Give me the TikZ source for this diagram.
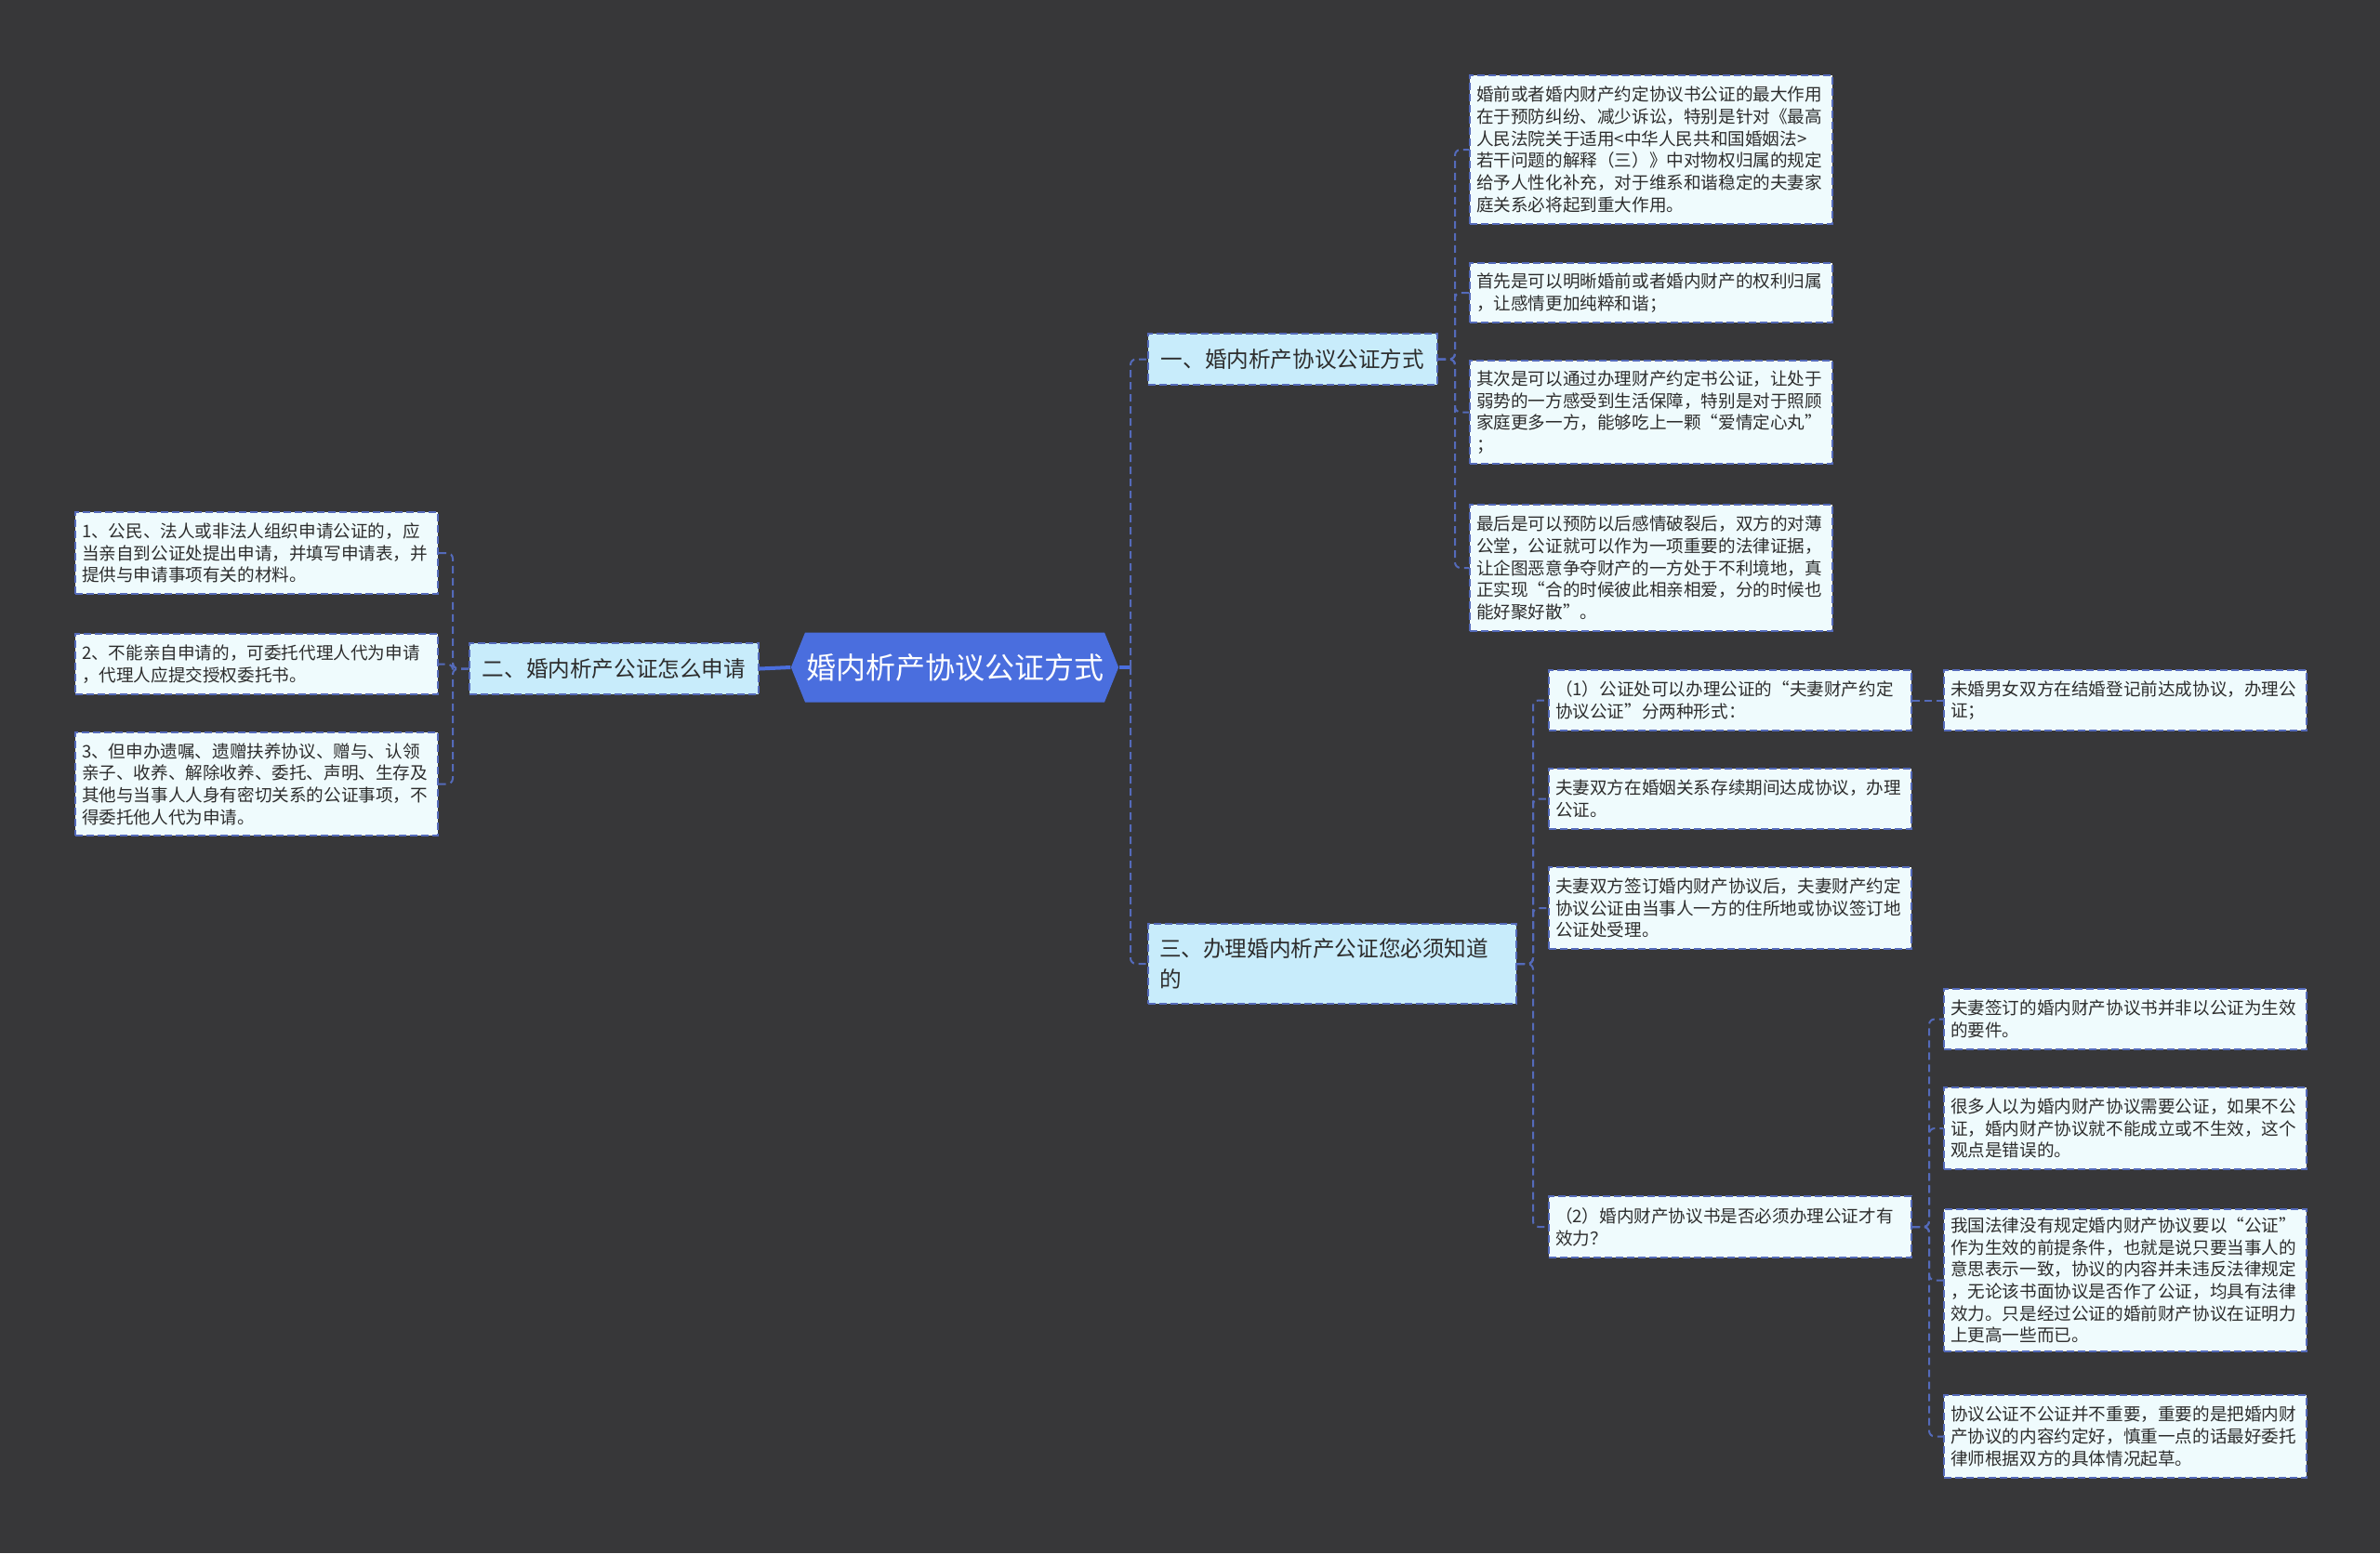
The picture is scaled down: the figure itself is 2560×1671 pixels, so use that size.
\documentclass[tikz,border=0pt]{standalone}
\usepackage{fontspec}
\setmainfont{Noto Sans CJK SC}
\usepackage{tikz}
\usepackage{xcolor}
\usetikzlibrary{shapes.symbols}
\definecolor{bgdark}{RGB}{55, 55, 57}
\definecolor{leaffill}{RGB}{239, 251, 253}
\definecolor{secfill}{RGB}{200, 236, 251}
\definecolor{linkblue}{RGB}{84, 106, 186}
\definecolor{rootblue}{RGB}{74, 110, 222}
\definecolor{textdark}{RGB}{45, 45, 45}
\tikzstyle{topic} = [signal, signal to=east and west, signal pointer angle=136, fill=rootblue, text=white, inner xsep=0.5pt, minimum height=37.5pt, font=\fontsize{16}{20}\selectfont]
\tikzstyle{branch} = [rectangle, anchor=north west, draw=linkblue, line width=1pt, dash pattern=on 4pt off 2pt, fill=secfill, text=textdark, align=left, inner xsep=6pt, font=\fontsize{11.8}{16.3}\selectfont]
\tikzstyle{leaf} = [rectangle, anchor=north west, draw=linkblue, line width=1pt, dash pattern=on 4pt off 2pt, fill=leaffill, text=textdark, text width=188pt, align=left, inner xsep=3.5pt, font=\fontsize{9.3}{11.85}\selectfont]
\tikzstyle{link} = [draw=linkblue, line width=1pt, dash pattern=on 4pt off 2.5pt, rounded corners=3pt]
\tikzstyle{trunk} = [draw=rootblue, line width=2pt]

\begin{document}
\begin{tikzpicture}[x=0.5pt, y=-0.5pt]

% background and page size
\fill [bgdark] (0,0) rectangle (2560,1671);

% centre and the three sections
\node (root) [topic] at (1027,718) {婚内析产协议公证方式};
\node (s1) [branch, minimum width=155.5pt, minimum height=27.5pt] at (1234,358) {一、婚内析产协议公证方式};
\node (s2) [branch, minimum width=155.5pt, minimum height=27.5pt] at (504,691) {二、婚内析产公证怎么申请};
\node (s3) [branch, text width=186pt, minimum height=43pt] at (1234,993) {三、办理婚内析产公证您必须知道\\的};
\coordinate (spine) at (1216,718);

% section one
\node (a1) [leaf, minimum height=80pt] at (1580,80) {婚前或者婚内财产约定协议书公证的最大作用\\在于预防纠纷、减少诉讼，特别是针对《最高\\人民法院关于适用<中华人民共和国婚姻法>\\若干问题的解释（三）》中对物权归属的规定\\给予人性化补充，对于维系和谐稳定的夫妻家\\庭关系必将起到重大作用。};
\node (a2) [leaf, minimum height=32pt] at (1580,282) {首先是可以明晰婚前或者婚内财产的权利归属\\，让感情更加纯粹和谐；};
\node (a3) [leaf, minimum height=55.5pt] at (1580,387) {其次是可以通过办理财产约定书公证，让处于\\弱势的一方感受到生活保障，特别是对于照顾\\家庭更多一方，能够吃上一颗“爱情定心丸”\\；};
\node (a4) [leaf, minimum height=68pt] at (1580,542) {最后是可以预防以后感情破裂后，双方的对薄\\公堂，公证就可以作为一项重要的法律证据，\\让企图恶意争夺财产的一方处于不利境地，真\\正实现“合的时候彼此相亲相爱，分的时候也\\能好聚好散”。};

% section two
\node (l1) [leaf, minimum height=44pt] at (80,550) {1、公民、法人或非法人组织申请公证的，应\\当亲自到公证处提出申请，并填写申请表，并\\提供与申请事项有关的材料。};
\node (l2) [leaf, minimum height=32.5pt] at (80,681) {2、不能亲自申请的，可委托代理人代为申请\\，代理人应提交授权委托书。};
\node (l3) [leaf, minimum height=55.5pt] at (80,787) {3、但申办遗嘱、遗赠扶养协议、赠与、认领\\亲子、收养、解除收养、委托、声明、生存及\\其他与当事人人身有密切关系的公证事项，不\\得委托他人代为申请。};

% section three
\node (b1) [leaf, minimum height=32.5pt] at (1665,720) {（1）公证处可以办理公证的“夫妻财产约定\\协议公证”分两种形式：};
\node (b2) [leaf, minimum height=32.5pt] at (1665,826) {夫妻双方在婚姻关系存续期间达成协议，办理\\公证。};
\node (b3) [leaf, minimum height=44pt] at (1665,932) {夫妻双方签订婚内财产协议后，夫妻财产约定\\协议公证由当事人一方的住所地或协议签订地\\公证处受理。};
\node (b4) [leaf, minimum height=33pt] at (1665,1286) {（2）婚内财产协议书是否必须办理公证才有\\效力？};
\node (c1) [leaf, minimum height=32.5pt] at (2090,720) {未婚男女双方在结婚登记前达成协议，办理公\\证；};
\node (d1) [leaf, minimum height=32.5pt] at (2090,1063) {夫妻签订的婚内财产协议书并非以公证为生效\\的要件。};
\node (d2) [leaf, minimum height=44pt] at (2090,1169) {很多人以为婚内财产协议需要公证，如果不公\\证，婚内财产协议就不能成立或不生效，这个\\观点是错误的。};
\node (d3) [leaf, minimum height=76.5pt] at (2090,1300) {我国法律没有规定婚内财产协议要以“公证”\\作为生效的前提条件，也就是说只要当事人的\\意思表示一致，协议的内容并未违反法律规定\\，无论该书面协议是否作了公证，均具有法律\\效力。只是经过公证的婚前财产协议在证明力\\上更高一些而已。};
\node (d4) [leaf, minimum height=44.5pt] at (2090,1500) {协议公证不公证并不重要，重要的是把婚内财\\产协议的内容约定好，慎重一点的话最好委托\\律师根据双方的具体情况起草。};

% trunk lines from the centre
\draw [trunk] (root.east) -- (spine);
\draw [trunk] (root.west) -- (s2.east);
\draw [link] (spine) |- (s1.west);
\draw [link] (spine) |- (s3.west);

% brackets to the leaves
\foreach \n in {a1,a2,a3,a4}
  \draw [link] (s1.east) -- ++(18,0) |- (\n.west);
\foreach \n in {l1,l2,l3}
  \draw [link] (s2.west) -- ++(-17,0) |- (\n.east);
\foreach \n in {b1,b2,b3,b4}
  \draw [link] (s3.east) -- ++(17,0) |- (\n.west);
\draw [link] (b1.east) -- (c1.west);
\foreach \n in {d1,d2,d3,d4}
  \draw [link] (b4.east) -- ++(18,0) |- (\n.west);

\end{tikzpicture}
\end{document}
